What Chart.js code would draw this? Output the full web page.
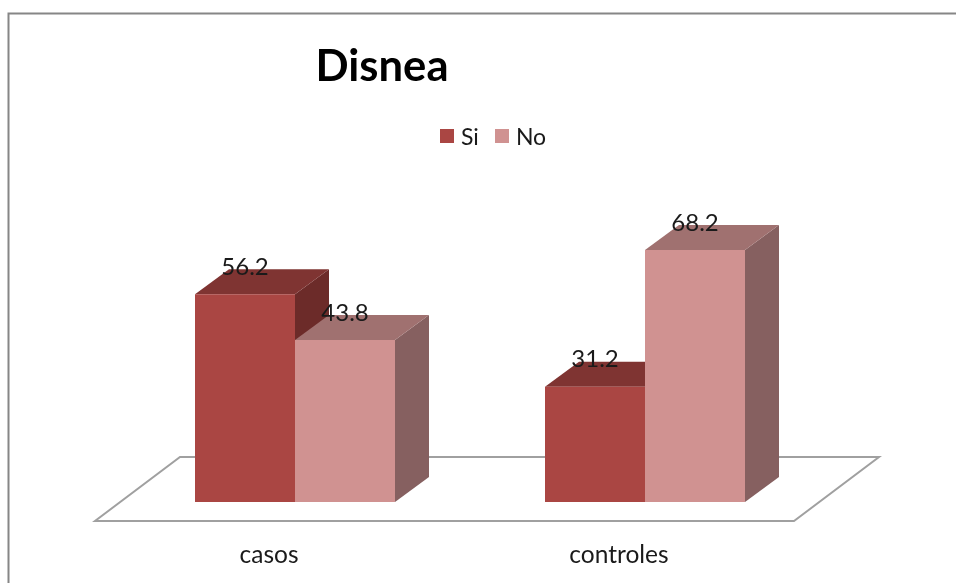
<!DOCTYPE html>
<html>
<head>
<meta charset="utf-8">
<title>Disnea</title>
<script src="https://cdn.jsdelivr.net/npm/chart.js@4"></script>
<style>
  html, body { margin: 0; padding: 0; background: #fff; overflow: hidden; }
  #wrap { position: relative; width: 956px; height: 583px; }
  canvas { display: block; }
  #legend {
    position: absolute; left: 440px; top: 122px; display: flex; align-items: center;
    font: 23px Lato, sans-serif; color: #1a1a1a; line-height: 28px;
  }
  #legend span.box { width: 14px; height: 14px; margin-right: 7px; display: inline-block; }
  #legend span.txt { margin-right: 16px; }
</style>
</head>
<body>
<div id="wrap">
  <canvas id="disneaChart" width="956" height="583"></canvas>
  <div id="legend"></div>
</div>
<script>
const categories = ['casos', 'controles'];
const siValues = [56.2, 31.2];
const noValues = [43.8, 68.2];

const titleText = 'Disnea';

// fake 3D depth of the columns, in px
const DEPTH_X = 34;
const DEPTH_Y = 25;

const SI_COLORS = { front: '#AA4643', top: '#7F3432', side: '#6C2B29' };
const NO_COLORS = { front: '#D09291', top: '#A07170', side: '#866060' };

// side and top faces go under the library's front rectangles
function drawBarFaces(ctx, bar, colors) {
    const left = bar.x - bar.width / 2;
    const right = bar.x + bar.width / 2;

    ctx.fillStyle = colors.side;
    ctx.beginPath();
    ctx.moveTo(right, bar.y);
    ctx.lineTo(right + DEPTH_X, bar.y - DEPTH_Y);
    ctx.lineTo(right + DEPTH_X, bar.base - DEPTH_Y);
    ctx.lineTo(right, bar.base);
    ctx.closePath();
    ctx.fill();

    ctx.fillStyle = colors.top;
    ctx.beginPath();
    ctx.moveTo(left, bar.y);
    ctx.lineTo(left + DEPTH_X, bar.y - DEPTH_Y);
    ctx.lineTo(right + DEPTH_X, bar.y - DEPTH_Y);
    ctx.lineTo(right, bar.y);
    ctx.closePath();
    ctx.fill();
}

const box3d = {
    id: 'box3d',
    afterLayout(chart) {
        // title sits off-centre, over the first group
        chart.titleBlock.left = 0;
        chart.titleBlock.right = 764;
    },
    beforeDraw(chart) {
        const ctx = chart.ctx;
        // chart frame, only top and left edges are in view
        ctx.save();
        ctx.strokeStyle = '#868686';
        ctx.lineWidth = 2;
        ctx.beginPath();
        ctx.moveTo(8.5, chart.height);
        ctx.lineTo(8.5, 13.5);
        ctx.lineTo(chart.width, 13.5);
        ctx.stroke();
        ctx.restore();
    },
    beforeDatasetsDraw(chart) {
        const ctx = chart.ctx;
        const { left, right, bottom } = chart.chartArea;

        // floor plane
        ctx.save();
        ctx.strokeStyle = '#A0A0A0';
        ctx.lineWidth = 2;
        ctx.lineJoin = 'miter';
        ctx.beginPath();
        ctx.moveTo(left - 25, bottom + 19);
        ctx.lineTo(right - 26, bottom + 19);
        ctx.lineTo(right + 59, bottom - 45);
        ctx.lineTo(left + 60, bottom - 45);
        ctx.closePath();
        ctx.stroke();

        chart.getDatasetMeta(0).data.forEach(bar => drawBarFaces(ctx, bar, SI_COLORS));
        chart.getDatasetMeta(1).data.forEach(bar => drawBarFaces(ctx, bar, NO_COLORS));
        ctx.restore();
    },
    afterDatasetsDraw(chart) {
        const ctx = chart.ctx;
        ctx.save();
        ctx.font = '24px Lato, sans-serif';
        ctx.fillStyle = '#1a1a1a';
        ctx.textAlign = 'center';
        ctx.textBaseline = 'middle';
        chart.data.datasets.forEach((ds, i) => {
            chart.getDatasetMeta(i).data.forEach((bar, j) => {
                ctx.fillText(ds.data[j].toFixed(1), bar.x, bar.y - 27);
            });
        });
        ctx.restore();
    }
};

const chart = new Chart(document.getElementById('disneaChart'), {
    type: 'bar',
    data: {
        labels: categories,
        datasets: [
            { label: 'Si', data: siValues, backgroundColor: SI_COLORS.front },
            { label: 'No', data: noValues, backgroundColor: NO_COLORS.front }
        ]
    },
    options: {
        responsive: false,
        animation: false,
        categoryPercentage: 200 / 350,
        barPercentage: 1,
        layout: { padding: { left: 120, right: 136, top: 0, bottom: 0 } },
        plugins: {
            legend: { display: false },
            tooltip: { enabled: false },
            title: {
                display: true,
                text: titleText,
                color: '#000',
                font: { family: 'Lato, sans-serif', size: 43.6, weight: 'bold' },
                padding: { top: 41, bottom: 113 }
            }
        },
        scales: {
            x: {
                grid: { display: false },
                border: { display: false },
                // axis band is fixed, the tick padding only places the labels
                afterFit(scale) { scale.height = 81; },
                ticks: {
                    color: '#1a1a1a',
                    font: { family: 'Lato, sans-serif', size: 24.5 },
                    padding: 30,
                    labelOffset: -26,
                    maxRotation: 0
                }
            },
            y: { display: false, min: 0, max: 80 }
        }
    },
    plugins: [box3d]
});

// legend row is plain markup next to the canvas
const legendEl = document.getElementById('legend');
chart.data.datasets.forEach(ds => {
    const box = document.createElement('span');
    box.className = 'box';
    box.style.background = ds.backgroundColor;
    const txt = document.createElement('span');
    txt.className = 'txt';
    txt.textContent = ds.label;
    legendEl.append(box, txt);
});
</script>
</body>
</html>
